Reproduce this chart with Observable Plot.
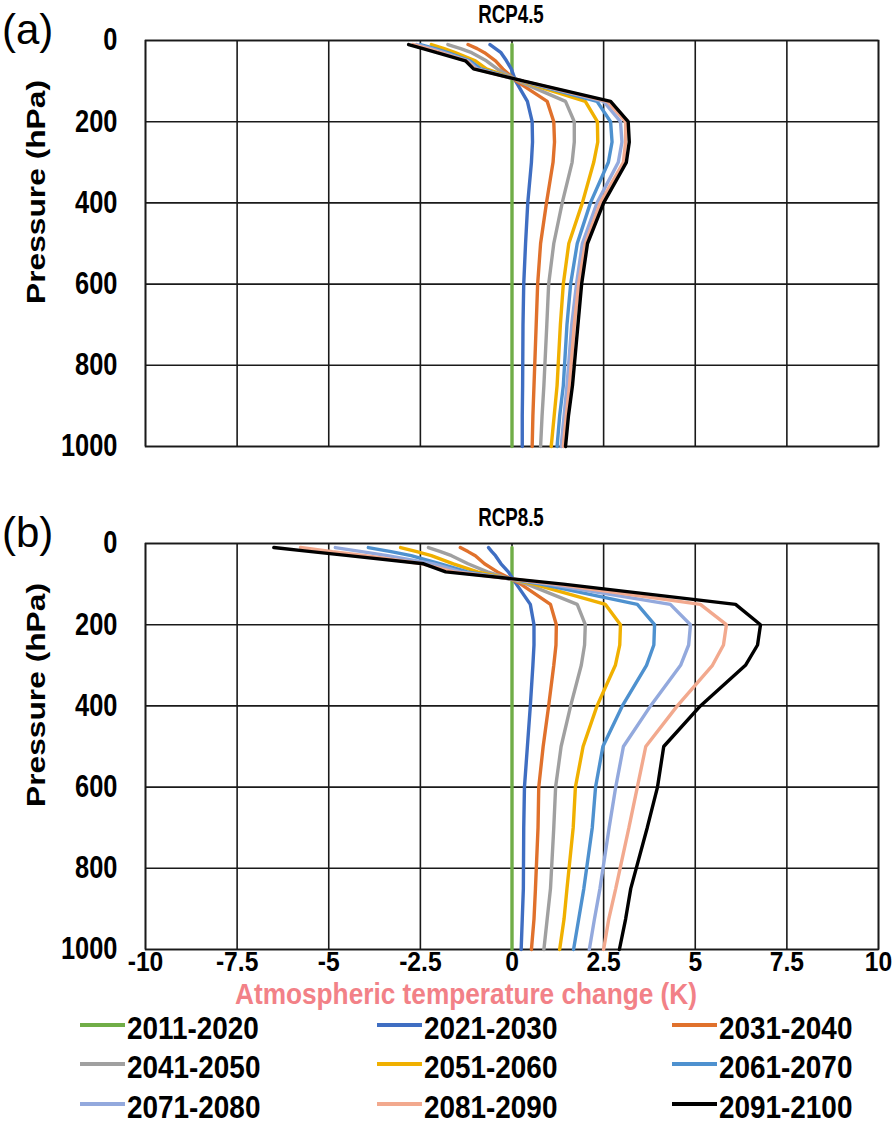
<!DOCTYPE html>
<html><head><meta charset="utf-8">
<script src="https://cdn.jsdelivr.net/npm/d3@7"></script>
<script src="https://cdn.jsdelivr.net/npm/@observablehq/plot@0.6"></script>
<style>
body{margin:0;background:#fff;}
#root{position:relative;width:896px;height:1131px;overflow:hidden;background:#fff;}
#root > svg{position:absolute;left:0;}
</style></head><body><div id="root"></div>
<script>
// ---- data ----
const levels = [10,20,30,50,70,100,150,200,250,300,400,500,600,700,850,925,1000];
const periods = ["2011-2020","2021-2030","2031-2040","2041-2050","2051-2060","2061-2070","2071-2080","2081-2090","2091-2100"];
const colors = ["#70AD47","#3F6EC2","#E0712C","#A0A0A0","#F0B000","#4E91CF","#93A9DD","#F2A98E","#000000"];
const xTicks = [-10,-7.5,-5,-2.5,0,2.5,5,7.5,10];
const xTickLabels = ["-10","-7.5","-5","-2.5","0","2.5","5","7.5","10"];
const yTicks = [0,200,400,600,800,1000];
const yTickLabels = ["0","200","400","600","800","1000"];

// RCP4.5 (K), one value per pressure level
const a2011 = [0,0,0,0,0,0,0,0,0,0,0,0,0,0,0,0,0];
const a2021 = [-0.6,-0.45,-0.3,-0.15,-0.02,0.1,0.42,0.55,0.56,0.53,0.43,0.37,0.32,0.3,0.29,0.28,0.28];
const a2031 = [-1.2,-0.95,-0.75,-0.45,-0.25,0.12,0.96,1.14,1.16,1.12,0.94,0.78,0.7,0.66,0.6,0.57,0.55];
const a2041 = [-1.75,-1.4,-1.1,-0.7,-0.4,0.18,1.46,1.7,1.7,1.64,1.37,1.14,1.0,0.95,0.87,0.82,0.78];
const a2051 = [-2.2,-1.85,-1.55,-1.0,-0.7,0.24,2.0,2.33,2.34,2.23,1.92,1.55,1.4,1.32,1.23,1.15,1.07];
const a2061 = [-2.5,-2.1,-1.75,-1.15,-0.85,0.28,2.32,2.69,2.73,2.63,2.14,1.78,1.6,1.5,1.4,1.3,1.23];
const a2071 = [-2.6,-2.2,-1.85,-1.2,-0.95,0.3,2.5,2.96,3.0,2.9,2.32,1.92,1.76,1.63,1.5,1.42,1.34];
const a2081 = [-2.7,-2.3,-1.95,-1.25,-1.0,0.31,2.6,3.1,3.1,3.04,2.41,2.0,1.82,1.7,1.57,1.48,1.4];
const a2091 = [-2.82,-2.43,-2.05,-1.27,-1.05,0.33,2.69,3.17,3.2,3.12,2.5,2.06,1.9,1.8,1.65,1.54,1.46];

// RCP8.5 (K)
const b2011 = [0,0,0,0,0,0,0,0,0,0,0,0,0,0,0,0,0];
const b2021 = [-0.64,-0.55,-0.45,-0.3,-0.1,0.12,0.5,0.6,0.6,0.57,0.5,0.42,0.34,0.32,0.31,0.28,0.25];
const b2031 = [-1.41,-1.2,-1.0,-0.75,-0.4,0.24,1.05,1.21,1.2,1.14,1.0,0.85,0.73,0.71,0.64,0.6,0.53];
const b2041 = [-2.28,-1.95,-1.65,-1.2,-0.67,0.41,1.78,2.0,1.98,1.89,1.6,1.34,1.19,1.14,1.05,0.96,0.87];
const b2051 = [-3.04,-2.6,-2.2,-1.6,-0.94,0.59,2.55,2.96,2.94,2.82,2.32,1.94,1.73,1.67,1.5,1.42,1.3];
const b2061 = [-3.92,-3.3,-2.75,-1.95,-1.22,0.79,3.42,3.89,3.87,3.67,3.01,2.48,2.28,2.19,1.96,1.82,1.68];
const b2071 = [-4.82,-4.1,-3.4,-2.14,-1.4,0.99,4.32,4.87,4.82,4.6,3.78,3.04,2.83,2.65,2.4,2.25,2.11];
const b2081 = [-5.77,-4.9,-4.0,-2.45,-1.6,1.18,5.14,5.85,5.77,5.47,4.51,3.65,3.42,3.19,2.83,2.64,2.5];
const b2091 = [-6.5,-5.48,-4.46,-2.41,-1.81,1.4,6.1,6.78,6.7,6.37,5.14,4.14,3.97,3.69,3.24,3.1,2.93];

const seriesA = [a2011,a2021,a2031,a2041,a2051,a2061,a2071,a2081,a2091];
const seriesB = [b2011,b2021,b2031,b2041,b2051,b2061,b2071,b2081,b2091];

// ---- drawing ----
const W = 896;
const FONT = '"Liberation Sans",Arial,sans-serif';
const SQ = 0.82; // horizontal squeeze to mimic the condensed face
const root = document.getElementById("root");

// append a horizontal scale to each text's own transform (x/y attributes are left as they are)
function squeeze(sel, s) {
  sel.each(function () {
    const tr = this.getAttribute("transform") || "";
    this.setAttribute("transform", (tr + ` scale(${s},1)`).trim());
  });
}

function makePanel(series, top, showX) {
  const rows = [];
  series.forEach((vals, i) => vals.forEach((t, j) => rows.push({period: periods[i], p: levels[j], t})));
  const mt = 40, innerH = 406, mb = showX ? 34 : 6;
  const svg = Plot.plot({
    width: W, height: mt + innerH + mb,
    marginLeft: 145, marginRight: 18, marginTop: mt, marginBottom: mb,
    style: {fontFamily: FONT, fontWeight: "bold", fontSize: "30px", color: "#000", background: "transparent", overflow: "visible"},
    x: {domain: [-10, 10], axis: null},
    y: {domain: [0, 1000], reverse: true, axis: null},
    color: {domain: periods, range: colors},
    marks: [
      Plot.gridX(xTicks, {stroke: "#1a1a1a", strokeOpacity: 1, strokeWidth: 1.6}),
      Plot.gridY(yTicks, {stroke: "#1a1a1a", strokeOpacity: 1, strokeWidth: 1.6}),
      Plot.frame({stroke: "#1a1a1a", strokeWidth: 1.6}),
      Plot.axisY(yTicks, {tickSize: 0, tickPadding: 28, label: null, fontSize: 31, tickFormat: (d, i) => yTickLabels[i]}),
      showX ? Plot.axisX(xTicks, {tickSize: 0, tickPadding: 2, label: null, fontSize: 28, tickFormat: (d, i) => xTickLabels[i]}) : null,
      Plot.line(rows, {x: "t", y: "p", z: "period", stroke: "period", strokeWidth: 3.4, strokeLinejoin: "miter"})
    ]
  });
  const sel = d3.select(svg);
  const xs = sel.selectAll('[aria-label^="x-axis"] text');
  const ys = sel.selectAll('[aria-label^="y-axis"] text');
  if (xs.size() + ys.size() === 0) squeeze(sel.selectAll("text"), SQ);
  else { squeeze(ys, SQ); squeeze(xs, 0.88); }
  svg.style.top = top + "px";
  root.appendChild(svg);
}
makePanel(seriesA, 0, false);
makePanel(seriesB, 503, true);

// overlay texts & legend
const ov = d3.select(root).append("svg").attr("width", W).attr("height", 1131)
  .style("top", "0px").style("pointer-events", "none");
function label(x, y, txt, size, opts = {}) {
  return ov.append("text").attr("transform", `translate(${x},${y}) ${opts.rot ? "rotate(-90) " : ""}scale(${opts.sx ?? SQ},1)`)
    .attr("text-anchor", opts.anchor || "start").attr("font-family", FONT)
    .attr("font-weight", opts.weight || "bold").attr("font-size", size).attr("fill", opts.fill || "#000").text(txt);
}
const panels = [{tag: "(a)", title: "RCP4.5", dy: 0}, {tag: "(b)", title: "RCP8.5", dy: 503}];
panels.forEach(p => {
  label(2, 44 + p.dy, p.tag, 42, {weight: "normal", sx: 1});
  label(511, 23 + p.dy, p.title, 26, {anchor: "middle", sx: 0.72});
  label(45, 192 + p.dy, "Pressure (hPa)", 26, {anchor: "middle", rot: true, sx: 1.22});
});
label(466, 1004, "Atmospheric temperature change (K)", 29, {anchor: "middle", fill: "#F28187", sx: 0.905});
const colX = [80, 377, 672], rowY = [1025, 1064, 1104];
periods.forEach((name, i) => {
  const cx = colX[i % 3], cy = rowY[Math.floor(i / 3)];
  ov.append("line").attr("x1", cx).attr("x2", cx + 45).attr("y1", cy).attr("y2", cy)
    .attr("stroke", colors[i]).attr("stroke-width", 4);
  label(cx + 47, cy + 14, name, 31, {sx: 0.9});
});
</script></body></html>
